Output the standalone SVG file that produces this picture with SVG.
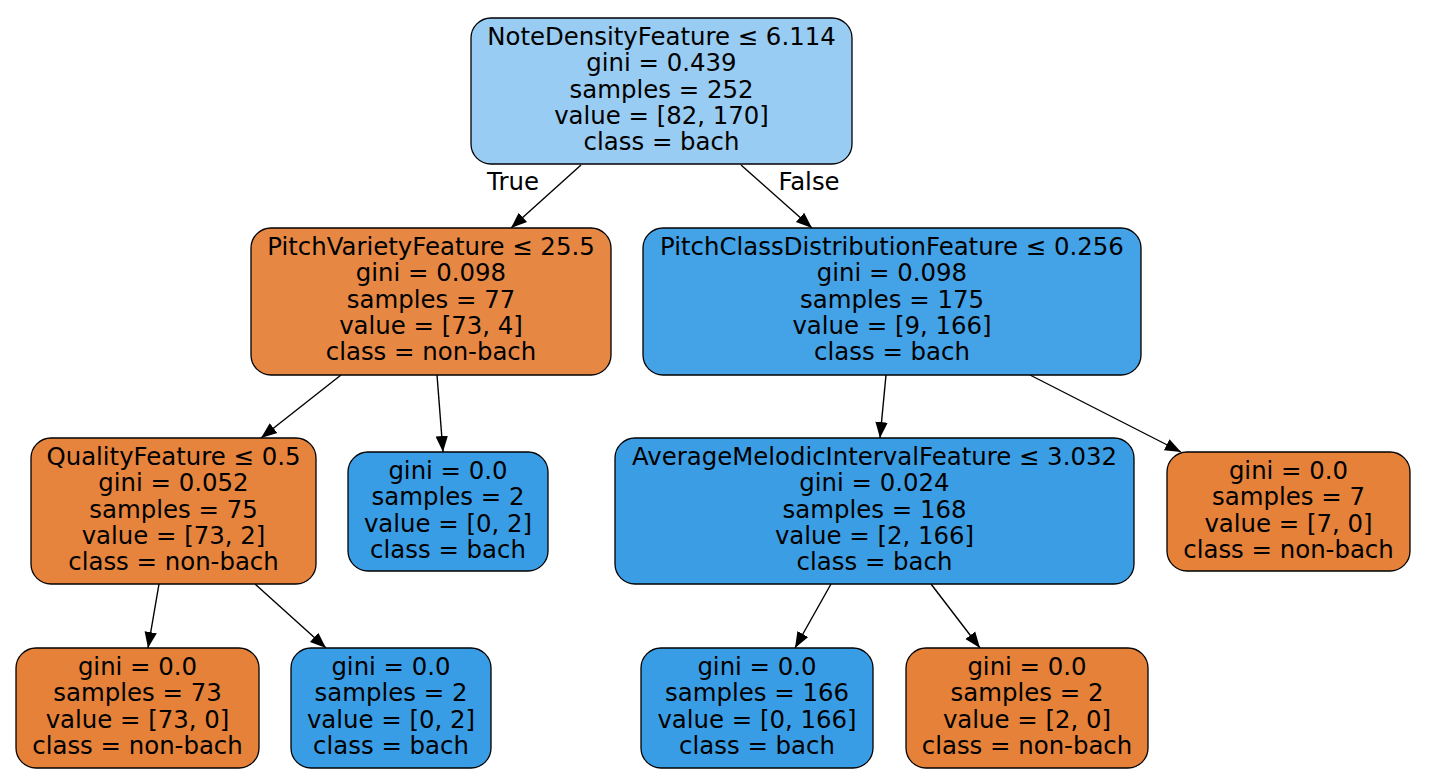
<svg xmlns="http://www.w3.org/2000/svg" width="1431" height="782" viewBox="0 0 1431 782">
<style>
.n rect{stroke:#000;stroke-width:1.3}
text{font-family:"DejaVu Sans",sans-serif;font-size:24.4px;fill:#000;text-anchor:middle}
.e line{stroke:#000;stroke-width:1.4;marker-end:url(#ah)}
</style>
<defs>
<marker id="ah" markerUnits="userSpaceOnUse" markerWidth="17" markerHeight="14" refX="16" refY="7" orient="auto" viewBox="0 0 17 14">
<path d="M0,0.8 L16,7 L0,13.2 Z" fill="#000"/>
</marker>
</defs>
<rect width="1431" height="782" fill="#fff"/>
<g id="edges" class="e">
<line x1="581" y1="165" x2="511" y2="228"/>
<line x1="741" y1="165" x2="812" y2="228"/>
<line x1="341" y1="375" x2="261" y2="438"/>
<line x1="437" y1="375" x2="443" y2="452"/>
<line x1="886" y1="375" x2="880" y2="438"/>
<line x1="1030" y1="375" x2="1181" y2="452"/>
<line x1="159" y1="584" x2="148" y2="648"/>
<line x1="255" y1="584" x2="326" y2="648"/>
<line x1="831" y1="584" x2="795" y2="648"/>
<line x1="931" y1="584" x2="980" y2="648"/>
<text x="513" y="190">True</text>
<text x="809" y="190">False</text>
</g>
<g id="n0" class="n"><rect x="471" y="18" width="381" height="146" rx="20" fill="#99ccf2"/>
<text x="661.5" y="45">NoteDensityFeature ≤ 6.114</text><text x="661.5" y="71.3">gini = 0.439</text><text x="661.5" y="97.6">samples = 252</text><text x="661.5" y="123.9">value = [82, 170]</text><text x="661.5" y="150.2">class = bach</text></g>
<g id="n1" class="n"><rect x="251" y="228" width="360" height="147" rx="20" fill="#e68844"/>
<text x="431" y="255">PitchVarietyFeature ≤ 25.5</text><text x="431" y="281.3">gini = 0.098</text><text x="431" y="307.6">samples = 77</text><text x="431" y="333.9">value = [73, 4]</text><text x="431" y="360.2">class = non-bach</text></g>
<g id="n2" class="n"><rect x="643" y="228" width="498" height="147" rx="20" fill="#44a2e6"/>
<text x="892" y="255">PitchClassDistributionFeature ≤ 0.256</text><text x="892" y="281.3">gini = 0.098</text><text x="892" y="307.6">samples = 175</text><text x="892" y="333.9">value = [9, 166]</text><text x="892" y="360.2">class = bach</text></g>
<g id="n3" class="n"><rect x="31" y="438" width="285" height="146" rx="20" fill="#e6843e"/>
<text x="173.5" y="465">QualityFeature ≤ 0.5</text><text x="173.5" y="491.3">gini = 0.052</text><text x="173.5" y="517.6">samples = 75</text><text x="173.5" y="543.9">value = [73, 2]</text><text x="173.5" y="570.2">class = non-bach</text></g>
<g id="n4" class="n"><rect x="348" y="452" width="200" height="119" rx="20" fill="#399de5"/>
<text x="448" y="479">gini = 0.0</text><text x="448" y="505.3">samples = 2</text><text x="448" y="531.6">value = [0, 2]</text><text x="448" y="557.9">class = bach</text></g>
<g id="n5" class="n"><rect x="615" y="438" width="519" height="146" rx="20" fill="#3b9ee5"/>
<text x="874.5" y="465">AverageMelodicIntervalFeature ≤ 3.032</text><text x="874.5" y="491.3">gini = 0.024</text><text x="874.5" y="517.6">samples = 168</text><text x="874.5" y="543.9">value = [2, 166]</text><text x="874.5" y="570.2">class = bach</text></g>
<g id="n6" class="n"><rect x="1167" y="452" width="243" height="119" rx="20" fill="#e58139"/>
<text x="1288.5" y="479">gini = 0.0</text><text x="1288.5" y="505.3">samples = 7</text><text x="1288.5" y="531.6">value = [7, 0]</text><text x="1288.5" y="557.9">class = non-bach</text></g>
<g id="n7" class="n"><rect x="16" y="648" width="243" height="120" rx="20" fill="#e58139"/>
<text x="137.5" y="675">gini = 0.0</text><text x="137.5" y="701.3">samples = 73</text><text x="137.5" y="727.6">value = [73, 0]</text><text x="137.5" y="753.9">class = non-bach</text></g>
<g id="n8" class="n"><rect x="291" y="648" width="200" height="120" rx="20" fill="#399de5"/>
<text x="391" y="675">gini = 0.0</text><text x="391" y="701.3">samples = 2</text><text x="391" y="727.6">value = [0, 2]</text><text x="391" y="753.9">class = bach</text></g>
<g id="n9" class="n"><rect x="641" y="648" width="232" height="120" rx="20" fill="#399de5"/>
<text x="757" y="675">gini = 0.0</text><text x="757" y="701.3">samples = 166</text><text x="757" y="727.6">value = [0, 166]</text><text x="757" y="753.9">class = bach</text></g>
<g id="n10" class="n"><rect x="906" y="648" width="242" height="120" rx="20" fill="#e58139"/>
<text x="1027" y="675">gini = 0.0</text><text x="1027" y="701.3">samples = 2</text><text x="1027" y="727.6">value = [2, 0]</text><text x="1027" y="753.9">class = non-bach</text></g>
</svg>
